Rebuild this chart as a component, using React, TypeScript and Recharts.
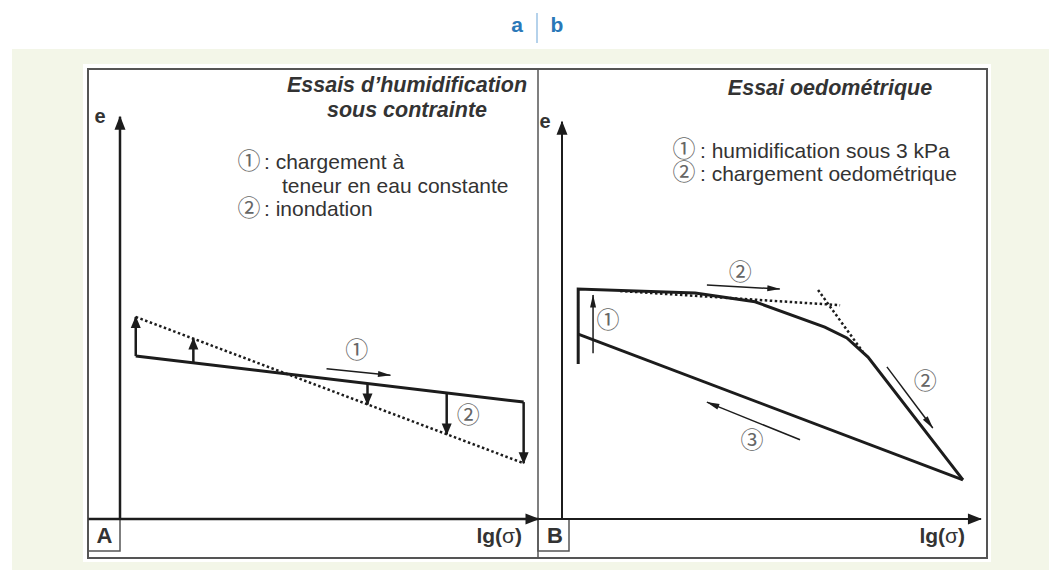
import React from "react";
import { ComposedChart, Line, Scatter, XAxis, YAxis } from "recharts";

type P = { x: number; y: number };
type L = { x: number; y: number; label: string };

// ---------- Panel A : Essais d'humidification sous contrainte ----------
const axisAX: P[] = [{ x: -7, y: 0 }, { x: 93, y: 0 }];
const axisAY: P[] = [{ x: 0, y: 0 }, { x: 0, y: 82.2 }];
const chargementA: P[] = [{ x: 3.5, y: 33.3 }, { x: 89.7, y: 23.9 }];
const inondationA: P[] = [{ x: 3.5, y: 41.3 }, { x: 89.7, y: 11.4 }];
const stepA1: P[] = [{ x: 3.5, y: 33.3 }, { x: 3.5, y: 41.3 }];
const stepA2: P[] = [{ x: 16.3, y: 31.9 }, { x: 16.3, y: 36.9 }];
const stepA3: P[] = [{ x: 55.0, y: 27.7 }, { x: 55.0, y: 23.4 }];
const stepA4: P[] = [{ x: 72.6, y: 25.8 }, { x: 72.6, y: 17.3 }];
const stepA5: P[] = [{ x: 89.7, y: 23.9 }, { x: 89.7, y: 11.4 }];
const dirA1: P[] = [{ x: 45.9, y: 30.7 }, { x: 60.1, y: 29.4 }];
const labelsA: L[] = [
  { x: 52.6, y: 35.0, label: "①" },
  { x: 77.4, y: 21.7, label: "②" },
];

// ---------- Panel B : Essai oedométrique ----------
const axisBX: P[] = [{ x: -5.3, y: 0 }, { x: 93.1, y: 0 }];
const axisBY: P[] = [{ x: 0, y: 0 }, { x: 0, y: 81.2 }];
const oedoB: P[] = [
  { x: 3.6, y: 31.7 },
  { x: 3.6, y: 47.0 },
  { x: 29.6, y: 46.2 },
  { x: 42.9, y: 44.4 },
  { x: 58.4, y: 39.2 },
  { x: 63.3, y: 37.0 },
  { x: 68.0, y: 33.1 },
  { x: 89.1, y: 8.0 },
];
const dechargeB: P[] = [{ x: 89.1, y: 8.0 }, { x: 3.6, y: 37.8 }];
const tangentB1: P[] = [{ x: 12.9, y: 46.6 }, { x: 61.8, y: 43.7 }];
const tangentB2: P[] = [{ x: 56.9, y: 46.8 }, { x: 66.9, y: 34.1 }];
const dirB1: P[] = [{ x: 6.9, y: 33.9 }, { x: 6.9, y: 45.8 }];
const dirB2: P[] = [{ x: 32.2, y: 47.8 }, { x: 48.4, y: 47.0 }];
const dirB3: P[] = [{ x: 72.2, y: 31.1 }, { x: 82.4, y: 18.6 }];
const dirB4: P[] = [{ x: 52.9, y: 16.2 }, { x: 32.2, y: 23.9 }];
const labelsB: L[] = [
  { x: 10.2, y: 41.0, label: "①" },
  { x: 39.6, y: 50.9, label: "②" },
  { x: 80.7, y: 28.6, label: "②" },
  { x: 42.2, y: 16.5, label: "③" },
];

// ---------- styles ----------
const SANS = "'Liberation Sans', Arial, Helvetica, sans-serif";
const CIRC = "'Noto Sans CJK JP', 'DejaVu Sans', sans-serif";
const INK = "#1c1c1c";
const FRAME = "#555";
const X_DOMAIN: [number, number] = [-10, 96];
const Y_DOMAIN: [number, number] = [-10, 94];
const CH_W = 477;
const CH_H = 509;
const CH_TOP = 59;

type Head = { len: number; half: number; push: number };
const HEAD_AXIS: Head = { len: 14, half: 5.5, push: 1 };
const HEAD_STEP: Head = { len: 12, half: 5, push: 1 };
const HEAD_THIN: Head = { len: 13, half: 3, push: 0.5 };

const makeHead = (h: Head, color: string) => (props: any) => {
  const { cx, cy, index, points } = props;
  const key = `h-${index}`;
  if (!points || index !== points.length - 1 || index < 1) return <g key={key} />;
  const p0 = points[index - 1];
  const ang = Math.atan2(cy - p0.y, cx - p0.x);
  const c = Math.cos(ang);
  const s = Math.sin(ang);
  const tx = cx + c * h.push;
  const ty = cy + s * h.push;
  const bx = tx - c * h.len;
  const by = ty - s * h.len;
  const pts = `${tx},${ty} ${bx - s * h.half},${by + c * h.half} ${bx + s * h.half},${by - c * h.half}`;
  return <polygon key={key} points={pts} fill={color} stroke="none" />;
};

type Series = { id: string; data: P[]; w: number; dash?: string; head?: Head };

const seriesA: Series[] = [
  { id: "axisAX", data: axisAX, w: 2.5, head: HEAD_AXIS },
  { id: "axisAY", data: axisAY, w: 2.5, head: HEAD_AXIS },
  { id: "inondationA", data: inondationA, w: 2.5, dash: "2.5 2.5" },
  { id: "chargementA", data: chargementA, w: 3 },
  { id: "stepA1", data: stepA1, w: 2.5, head: HEAD_STEP },
  { id: "stepA2", data: stepA2, w: 2.5, head: HEAD_STEP },
  { id: "stepA3", data: stepA3, w: 2.5, head: HEAD_STEP },
  { id: "stepA4", data: stepA4, w: 2.5, head: HEAD_STEP },
  { id: "stepA5", data: stepA5, w: 2.5, head: HEAD_STEP },
  { id: "dirA1", data: dirA1, w: 1.5, head: HEAD_THIN },
];

const seriesB: Series[] = [
  { id: "axisBX", data: axisBX, w: 2, head: HEAD_AXIS },
  { id: "axisBY", data: axisBY, w: 2, head: HEAD_AXIS },
  { id: "tangentB1", data: tangentB1, w: 2.5, dash: "2.5 2.5" },
  { id: "tangentB2", data: tangentB2, w: 2.5, dash: "2.5 2.5" },
  { id: "oedoB", data: oedoB, w: 3 },
  { id: "dechargeB", data: dechargeB, w: 3 },
  { id: "dirB1", data: dirB1, w: 1.5, head: HEAD_THIN },
  { id: "dirB2", data: dirB2, w: 1.5, head: HEAD_THIN },
  { id: "dirB3", data: dirB3, w: 1.5, head: HEAD_THIN },
  { id: "dirB4", data: dirB4, w: 1.5, head: HEAD_THIN },
];

const CircledLabel = (props: any) => (
  <text
    x={props.cx}
    y={props.cy}
    textAnchor="middle"
    dominantBaseline="central"
    fontSize={23}
    fill="#666"
    fontFamily={CIRC}
  >
    {props.payload.label}
  </text>
);

function PanelChart({ left, series, labels }: { left: number; series: Series[]; labels: L[] }) {
  return (
    <div style={{ position: "absolute", left, top: CH_TOP, width: CH_W, height: CH_H }}>
      <ComposedChart width={CH_W} height={CH_H} margin={{ top: 0, right: 0, bottom: 0, left: 0 }}>
        <XAxis type="number" dataKey="x" domain={X_DOMAIN} allowDataOverflow hide />
        <YAxis type="number" dataKey="y" domain={Y_DOMAIN} allowDataOverflow hide />
        {series.map((s) => (
          <Line
            key={s.id}
            name={s.id}
            data={s.data}
            dataKey="y"
            type="linear"
            stroke={INK}
            strokeWidth={s.w}
            strokeDasharray={s.dash}
            dot={s.head ? makeHead(s.head, INK) : false}
            activeDot={false}
            isAnimationActive={false}
            legendType="none"
          />
        ))}
        <Scatter data={labels} shape={CircledLabel} isAnimationActive={false} legendType="none" />
      </ComposedChart>
    </div>
  );
}

export default function App() {
  const txt = { fontFamily: SANS, fill: "#333" } as const;
  const circ = { fontFamily: CIRC, fill: "#666", fontSize: 23, textAnchor: "middle" } as const;
  return (
    <div
      style={{
        position: "absolute",
        left: 0,
        top: 0,
        width: 1049,
        height: 570,
        background: "#fff",
        overflow: "hidden",
        fontFamily: SANS,
      }}
    >
      <div style={{ position: "absolute", left: 12, top: 49, width: 1037, height: 521, background: "#f3f6e8" }} />
      <div style={{ position: "absolute", left: 83, top: 64, width: 908, height: 498, background: "#fff" }} />
      <svg width={1049} height={570} style={{ position: "absolute", left: 0, top: 0 }}>
        {/* header */}
        <text x={517} y={32} textAnchor="middle" fontFamily={SANS} fontWeight="bold" fontSize={21} fill="#2a78b8">
          a
        </text>
        <line x1={537} y1={13} x2={537} y2={43} stroke="#9cc3e4" strokeWidth={1.5} />
        <text x={557} y={32} textAnchor="middle" fontFamily={SANS} fontWeight="bold" fontSize={21} fill="#2a78b8">
          b
        </text>

        {/* frames */}
        <rect x={88} y={69} width={899} height={489} fill="none" stroke={FRAME} strokeWidth={2} />
        <line x1={538} y1={69} x2={538} y2={558} stroke={FRAME} strokeWidth={1.5} />
        <rect x={88} y={519} width={32} height={32} fill="none" stroke={FRAME} strokeWidth={1.5} />
        <rect x={538} y={519} width={31} height={32} fill="none" stroke={FRAME} strokeWidth={1.5} />

        {/* panel A texts */}
        <text fontWeight="bold" fontStyle="italic" fontSize={21.5} {...txt}>
          <tspan x={407} y={92} textAnchor="middle">Essais d’humidification</tspan>
          <tspan x={407} y={117} textAnchor="middle">sous contrainte</tspan>
        </text>
        <text fontSize={21} {...txt}>
          <tspan x={249} y={169} {...circ}>①</tspan>
          <tspan x={264} y={169}>: chargement à</tspan>
          <tspan x={282} y={193}>teneur en eau constante</tspan>
          <tspan x={249} y={216} {...circ}>②</tspan>
          <tspan x={264} y={216}>: inondation</tspan>
        </text>
        <text x={100} y={123} textAnchor="middle" fontWeight="bold" fontSize={20} {...txt}>
          e
        </text>
        <text x={522} y={543} textAnchor="end" fontWeight="bold" fontSize={21} {...txt}>
          lg(<tspan fontWeight="normal">σ</tspan>)
        </text>
        <text x={104.5} y={543} textAnchor="middle" fontWeight="bold" fontSize={22} {...txt}>
          A
        </text>

        {/* panel B texts */}
        <text x={830} y={95} textAnchor="middle" fontWeight="bold" fontStyle="italic" fontSize={21.5} {...txt}>
          Essai oedométrique
        </text>
        <text fontSize={21} {...txt}>
          <tspan x={684} y={157} {...circ}>①</tspan>
          <tspan x={700} y={158}>: humidification sous 3 kPa</tspan>
          <tspan x={684} y={180} {...circ}>②</tspan>
          <tspan x={700} y={181}>: chargement oedométrique</tspan>
        </text>
        <text x={545} y={128} textAnchor="middle" fontWeight="bold" fontSize={20} {...txt}>
          e
        </text>
        <text x={965} y={543} textAnchor="end" fontWeight="bold" fontSize={21} {...txt}>
          lg(<tspan fontWeight="normal">σ</tspan>)
        </text>
        <text x={555} y={543} textAnchor="middle" fontWeight="bold" fontSize={22} {...txt}>
          B
        </text>
      </svg>
      <PanelChart left={75} series={seriesA} labels={labelsA} />
      <PanelChart left={517} series={seriesB} labels={labelsB} />
    </div>
  );
}
